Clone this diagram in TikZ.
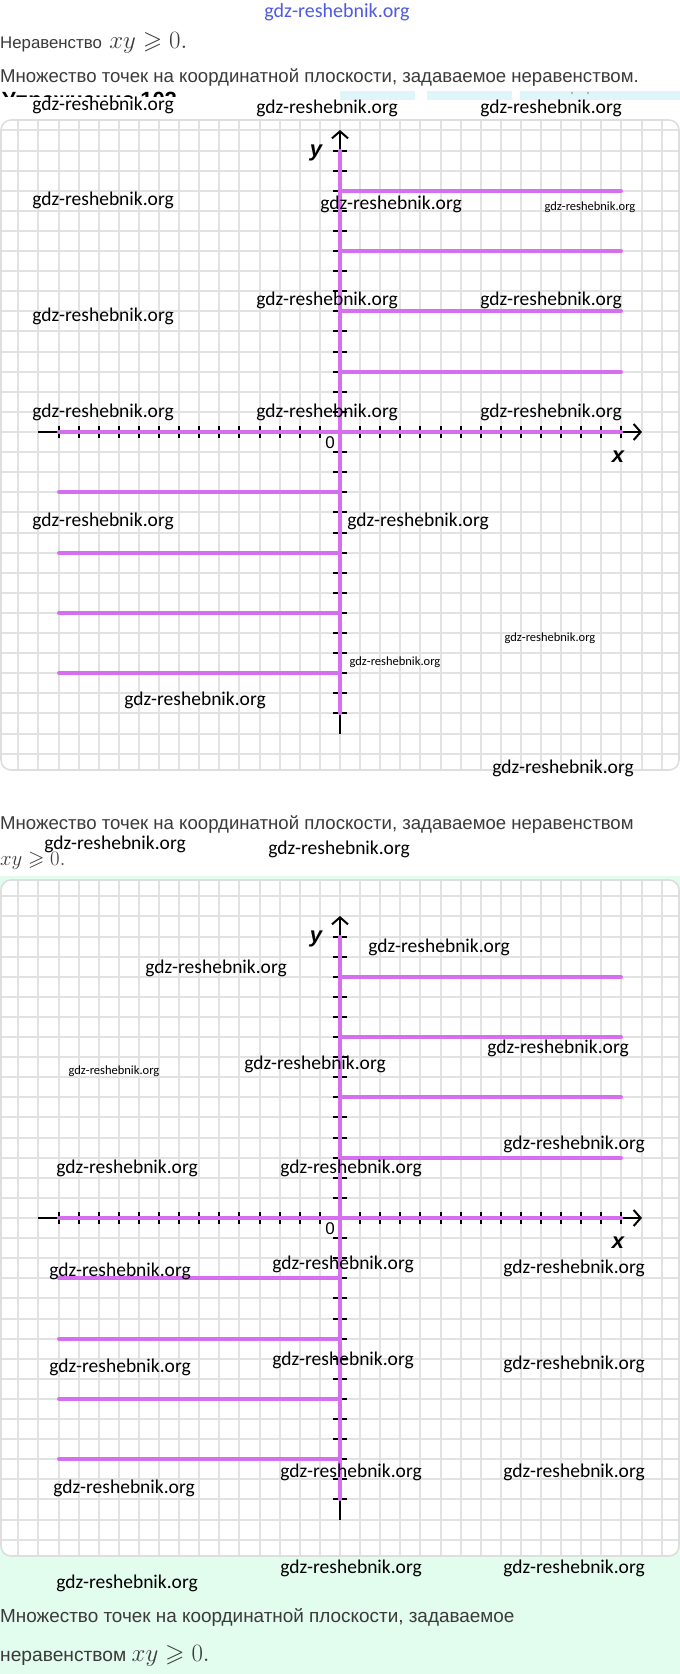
\documentclass[tikz,border=0pt]{standalone}
\usepackage{amssymb}
\usepackage{fontspec}
\setmainfont{Liberation Sans}
\newfontfamily\wmfont{Carlito}
\usetikzlibrary{arrows.meta}
\definecolor{mag}{RGB}{214,110,240}
\definecolor{gridc}{RGB}{226,226,226}
\definecolor{panelb}{RGB}{222,222,222}
\definecolor{mint}{RGB}{226,252,238}
\definecolor{txt}{RGB}{58,58,58}
\definecolor{cyanbar}{RGB}{222,245,249}
\definecolor{logoc}{RGB}{80,90,225}
\newcommand\xyineq[1]{{\fontsize{#1}{#1}\selectfont$xy \geqslant 0.$}}
\tikzset{
  wm/.style={font=\wmfont\fontsize{19.5}{20}\selectfont, text=black, inner sep=0pt},
  wms/.style={font=\wmfont\fontsize{12.5}{13}\selectfont, text=black, inner sep=0pt},
  body/.style={text=txt, inner sep=0pt, anchor=west},
  axlab/.style={font=\bfseries\itshape\fontsize{22}{22}\selectfont, inner sep=0pt},
  zerolab/.style={font=\fontsize{17}{17}\selectfont, inner sep=0pt},
  magline/.style={mag, line width=4pt, line cap=round},
  axisline/.style={black, line width=2pt},
  tickx/.style={black, line width=2pt},
}
\newcommand\coordpanel[4]{%
  % #1 axis y, #2 top, #3 bottom, #4 name prefix
  \begin{scope}
    \clip[rounded corners=10pt] (1,#2) rectangle (679,#3);
    \fill[white] (0,#2) rectangle (680,#3);
    \foreach \i in {-17,...,17}
      \draw[gridc, line width=1.4pt] ({340+round(20.1*\i)},#2) -- ({340+round(20.1*\i)},#3);
    \foreach \j in {-17,...,17}
      \draw[gridc, line width=1.4pt] (0,{#1+round(20.1*\j)}) -- (680,{#1+round(20.1*\j)});
  \end{scope}
  \draw[panelb, line width=1.6pt, rounded corners=10pt] (1,#2) rectangle (679,#3);
  \coordinate (#4O) at (340,#1);
  \coordinate (#4xL) at ({340-302},#1);
  \coordinate (#4xR) at ({340+302},#1);
  \coordinate (#4yT) at (340,{#1-302});
  \coordinate (#4yB) at (340,{#1+302});
  \draw[axisline, -{Straight Barb[length=7pt,width=16pt]}] (#4xL) -- (#4xR);
  \draw[axisline, -{Straight Barb[length=7pt,width=16pt]}] (#4yB) -- (#4yT);
  \foreach \i in {-14,...,-1,1,2,...,14}
    \draw[tickx] ({340+round(20.1*\i)},{#1-6}) -- ({340+round(20.1*\i)},{#1+6});
  \foreach \j in {-14,...,-1,1,2,...,14}
    \draw[tickx] (333,{#1+round(20.1*\j)}) -- (347,{#1+round(20.1*\j)});
  \coordinate (#4mxL) at ({340-281},#1);
  \coordinate (#4mxR) at ({340+281},#1);
  \coordinate (#4myT) at (340,{#1-281});
  \coordinate (#4myB) at (340,{#1+281});
  \draw[magline] (#4mxL) -- (#4mxR);
  \draw[magline] (#4myT) -- (#4myB);
  \foreach \k in {3,6,9,12} {
    \draw[magline] (340,{#1-round(20.1*\k)}) -- ({340+281},{#1-round(20.1*\k)});
    \draw[magline] ({340-281},{#1+round(20.1*\k)}) -- (340,{#1+round(20.1*\k)});
  }
  \node[axlab] (#4ylab) at (316,{#1-279}) {y};
  \node[axlab] (#4xlab) at (618,{#1+25}) {x};
  \node[zerolab] (#4zero) at (330,{#1+11}) {0};
}
\begin{document}
\begin{tikzpicture}[x=1pt,y=-1pt]
\useasboundingbox (0,0) rectangle (680,1674);
\fill[white] (0,0) rectangle (680,1674);
% mint background behind second panel
\fill[mint] (0,876) rectangle (680,1674);

% top logo
\node[font=\wmfont\fontsize{20}{20}\selectfont, text=logoc, inner sep=0pt] (logo) at (337,12) {gdz-reshebnik.org};

% first texts
\node[body, font=\fontsize{16.8}{18}\selectfont] (t1) at (0,43) {Неравенство\, \xyineq{25}};
\node[body, font=\fontsize{18.6}{20}\selectfont] (t2) at (0,78) {Множество точек на координатной плоскости, задаваемое неравенством.};

% partially hidden heading and cyan bars
\begin{scope}
  \clip (0,91) rectangle (220,96);
  \node[font=\bfseries\fontsize{22}{22}\selectfont, anchor=base west, inner sep=0pt] (head) at (2,107) {Упражнение 102};
\end{scope}
\fill[cyanbar] (340,91) rectangle (415,100);
\fill[cyanbar] (427,91) rectangle (512,100);
\fill[cyanbar] (520,91) rectangle (680,100);
\fill[gray] (572,93) circle (0.8);
\fill[gray] (588,93) circle (0.8);

% panel 1
\coordpanel{432}{120}{770}{a}

% panel 1 watermarks
\node[wm] (w1) at (103,105) {gdz-reshebnik.org};
\node[wm] (w2) at (327,108) {gdz-reshebnik.org};
\node[wm] (w3) at (551,108) {gdz-reshebnik.org};
\node[wm] (w4) at (103,200) {gdz-reshebnik.org};
\node[wm] (w5) at (391,204) {gdz-reshebnik.org};
\node[wms] (w6) at (590,207) {gdz-reshebnik.org};
\node[wm] (w7) at (327,300) {gdz-reshebnik.org};
\node[wm] (w8) at (551,300) {gdz-reshebnik.org};
\node[wm] (w9) at (103,316) {gdz-reshebnik.org};
\node[wm] (w10) at (103,412) {gdz-reshebnik.org};
\node[wm] (w11) at (327,412) {gdz-reshebnik.org};
\node[wm] (w12) at (551,412) {gdz-reshebnik.org};
\node[wm] (w13) at (103,521) {gdz-reshebnik.org};
\node[wm] (w14) at (418,521) {gdz-reshebnik.org};
\node[wms] (w15) at (550,638) {gdz-reshebnik.org};
\node[wms] (w16) at (395,662) {gdz-reshebnik.org};
\node[wm] (w17) at (195,700) {gdz-reshebnik.org};
\node[wm] (w18) at (563,768) {gdz-reshebnik.org};

% second texts
\node[body, font=\fontsize{18.6}{20}\selectfont] (t3) at (0,825) {Множество точек на координатной плоскости, задаваемое неравенством};
\node[body] (t4) at (0,861) {\xyineq{21}};

% panel 2
\coordpanel{1218}{880}{1556}{b}

% panel 2 watermarks
\node[wm] (v1) at (115,844) {gdz-reshebnik.org};
\node[wm] (v2) at (339,849) {gdz-reshebnik.org};
\node[wm] (v3) at (439,947) {gdz-reshebnik.org};
\node[wm] (v4) at (216,968) {gdz-reshebnik.org};
\node[wms] (v5) at (114,1071) {gdz-reshebnik.org};
\node[wm] (v6) at (315,1064) {gdz-reshebnik.org};
\node[wm] (v7) at (558,1048) {gdz-reshebnik.org};
\node[wm] (v8) at (574,1144) {gdz-reshebnik.org};
\node[wm] (v9) at (127,1168) {gdz-reshebnik.org};
\node[wm] (v10) at (351,1168) {gdz-reshebnik.org};
\node[wm] (v11) at (120,1271) {gdz-reshebnik.org};
\node[wm] (v12) at (343,1264) {gdz-reshebnik.org};
\node[wm] (v13) at (574,1268) {gdz-reshebnik.org};
\node[wm] (v14) at (120,1367) {gdz-reshebnik.org};
\node[wm] (v15) at (343,1360) {gdz-reshebnik.org};
\node[wm] (v16) at (574,1364) {gdz-reshebnik.org};
\node[wm] (v17) at (124,1488) {gdz-reshebnik.org};
\node[wm] (v18) at (351,1472) {gdz-reshebnik.org};
\node[wm] (v19) at (574,1472) {gdz-reshebnik.org};
\node[wm] (v20) at (127,1583) {gdz-reshebnik.org};
\node[wm] (v21) at (351,1568) {gdz-reshebnik.org};
\node[wm] (v22) at (574,1568) {gdz-reshebnik.org};

% bottom texts
\node[body, font=\fontsize{18.9}{20}\selectfont] (t5) at (0,1617) {Множество точек на координатной плоскости, задаваемое};
\node[body, font=\fontsize{19.2}{20}\selectfont] (t6) at (0,1656) {неравенством \xyineq{25}};
\end{tikzpicture}
\end{document}
